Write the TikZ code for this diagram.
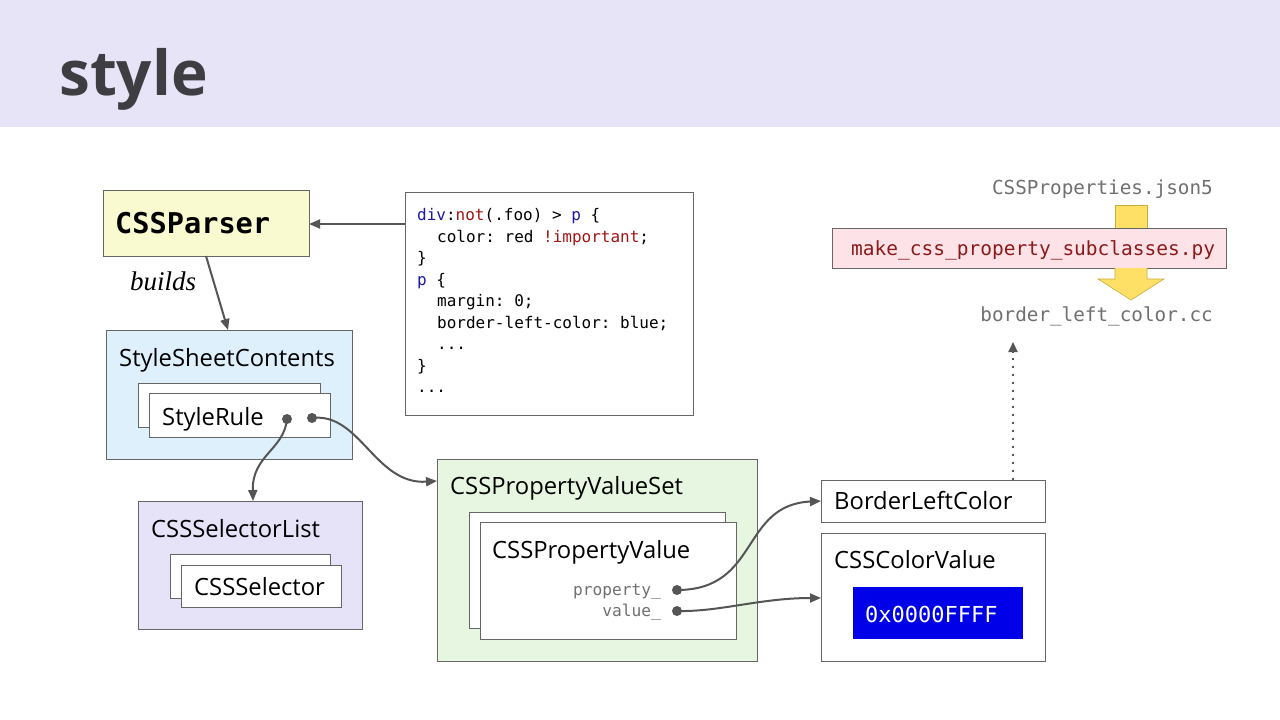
\documentclass[tikz,border=0pt]{standalone}
\usepackage{fontspec}
\setmainfont{Open Sans}
\setmonofont{DejaVu Sans Mono}
\newfontfamily\serifit{Liberation Serif}
\usetikzlibrary{arrows.meta}
\definecolor{hdr}{HTML}{E7E4F8}
\definecolor{ttl}{HTML}{3D3D42}
\definecolor{ln}{HTML}{666666}
\definecolor{cn}{HTML}{555555}
\definecolor{yel}{HTML}{FAFAD0}
\definecolor{blu}{HTML}{DDF0FC}
\definecolor{lav}{HTML}{E6E3F8}
\definecolor{grn}{HTML}{E6F6E0}
\definecolor{pnk}{HTML}{FDE3E8}
\definecolor{cblue}{HTML}{1A1AA6}
\definecolor{cred}{HTML}{A31515}
\definecolor{pyred}{HTML}{8B1A1A}
\definecolor{txtgray}{HTML}{707070}
\definecolor{bar}{HTML}{0000E8}
\definecolor{arrowy}{HTML}{FFE066}
\definecolor{arrowyb}{HTML}{C9AE3C}
\tikzset{
  box/.style={draw=ln, line width=1pt},
  lbl/.style={anchor=base west, inner sep=0pt, font=\fontsize{23.8}{26}\selectfont},
  code/.style={anchor=base west, inner sep=0pt, font=\ttfamily\fontsize{16}{18}\selectfont},
  conn/.style={draw=cn, line width=2pt, -{Triangle[length=11pt,width=9pt]}},
  dotm/.style={circle, fill=cn, inner sep=0pt, minimum size=10pt},
}
\begin{document}
\begin{tikzpicture}[x=1pt,y=-1pt]
\useasboundingbox (0,0) rectangle (1280,720);
\fill[white] (0,0) rectangle (1280,720);
% header
\fill[hdr] (0,0) rectangle (1280,127);
\node[anchor=base west, inner sep=0pt, text=ttl, font=\bfseries\fontsize{62}{68}\selectfont] (title) at (59,95) {style};

% CSSParser
\draw[box, fill=yel] (103,190) rectangle (309,256);
\coordinate (parserR) at (309,224);
\coordinate (parserB) at (206,256);
\node[anchor=base west, inner sep=0pt, font=\ttfamily\bfseries\fontsize{28.6}{30}\selectfont] (parser) at (115,233) {CSSParser};

% code box
\draw[box, fill=white] (405,192) rectangle (693,415);
\coordinate (codeL) at (405,224);
\node[code] (c1) at (417,220) {\textcolor{cblue}{div}:\textcolor{cred}{not}(.foo) > \textcolor{cblue}{p} \{};
\node[code] (c2) at (437,242) {color: red \textcolor{cred}{!important};};
\node[code] (c3) at (417,263) {\}};
\node[code] (c4) at (417,285) {\textcolor{cblue}{p} \{};
\node[code] (c5) at (437,306) {margin: 0;};
\node[code] (c6) at (437,328) {border-left-color: blue;};
\node[code] (c7) at (437,349) {...};
\node[code] (c8) at (417,371) {\}};
\node[code] (c9) at (417,392) {...};
\draw[conn] (codeL) -- (parserR);

% builds
\node[anchor=base west, inner sep=0pt, font=\serifit\itshape\fontsize{27}{29}\selectfont] (builds) at (130,290) {builds};

% StyleSheetContents
\draw[box, fill=blu] (106,330) rectangle (352,459);
\coordinate (sscT) at (228,330);
\node[lbl] (ssc) at (119,366) {StyleSheetContents};
\draw[box, fill=white] (138,383) rectangle (320,427);
\draw[box, fill=white] (149,393) rectangle (330,437);
\node[lbl] (srule) at (162,425) {StyleRule};
\draw[conn] (parserB) -- (sscT);

% CSSSelectorList
\draw[box, fill=lav] (138,501) rectangle (362,629);
\coordinate (cslT) at (253,501);
\node[lbl] (csl) at (151,537) {CSSSelectorList};
\draw[box, fill=white] (170,554) rectangle (330,598);
\draw[box, fill=white] (181,565) rectangle (341,607);
\node[lbl] (csel) at (194,595) {CSSSelector};

% CSSPropertyValueSet
\draw[box, fill=grn] (437,459) rectangle (757,661);
\coordinate (cpvsL) at (437,481);
\node[lbl] (cpvs) at (450,494) {CSSPropertyValueSet};
\draw[box, fill=white] (469,512) rectangle (725,628);
\draw[box, fill=white] (480,522) rectangle (736,639);
\node[lbl] (cpv) at (492,558) {CSSPropertyValue};
\node[anchor=base east, inner sep=0pt, text=txtgray, font=\ttfamily\fontsize{16.2}{18}\selectfont] (prop) at (661,595) {property\_};
\node[anchor=base east, inner sep=0pt, text=txtgray, font=\ttfamily\fontsize{16.2}{18}\selectfont] (val) at (661,616) {value\_};

% BorderLeftColor
\draw[box, fill=white] (821,480) rectangle (1045,522);
\coordinate (blcL) at (821,501);
\coordinate (blcT) at (1013,480);
\node[lbl] (blc) at (834,509) {BorderLeftColor};

% CSSColorValue
\draw[box, fill=white] (821,533) rectangle (1045,661);
\coordinate (ccvL) at (821,598);
\node[lbl] (ccv) at (834,568) {CSSColorValue};
\fill[bar] (853,587) rectangle (1023,639);
\node[anchor=base west, inner sep=0pt, text=white, font=\ttfamily\fontsize{22}{24}\selectfont] (hex) at (865,622) {0x0000FFFF};

% dots
\node[dotm] (d1) at (287,419) {};
\node[dotm] (d2) at (312,418) {};
\node[dotm] (d3) at (677,590) {};
\node[dotm] (d4) at (677,611) {};

% connectors
\draw[conn] (d1.center) .. controls (284,450) and (252,455) .. (cslT);
\draw[conn] (d2.center) .. controls (360,412) and (375,485) .. (cpvsL);
\draw[conn] (d3.center) .. controls (760,590) and (740,505) .. (blcL);
\draw[conn] (d4.center) .. controls (720,612) and (760,598) .. (ccvL);

% generator
\node[anchor=base east, inner sep=0pt, text=txtgray, font=\ttfamily\fontsize{19.3}{21}\selectfont] (json) at (1213,194) {CSSProperties.json5};
\draw[arrowyb, fill=arrowy, line width=0.6pt] (1115,205) rectangle (1147,232);
\draw[box, fill=pnk] (832,228) rectangle (1226,268);
\node[anchor=base west, inner sep=0pt, text=pyred, font=\ttfamily\fontsize{19.5}{21}\selectfont] (py) at (851,255) {make\_css\_property\_subclasses.py};
\draw[arrowyb, fill=arrowy, line width=0.6pt] (1115,268) -- (1115,279) -- (1098,279) -- (1131,300) -- (1164,279) -- (1147,279) -- (1147,268);
\node[anchor=base east, inner sep=0pt, text=txtgray, font=\ttfamily\fontsize{19.3}{21}\selectfont] (cc) at (1213,321) {border\_left\_color.cc};
\coordinate (ccB) at (1013,342);
\draw[draw=cn, line width=2pt, dash pattern=on 2pt off 6pt, -{Triangle[length=10pt,width=9pt]}] (blcT) -- (ccB);
\end{tikzpicture}
\end{document}
